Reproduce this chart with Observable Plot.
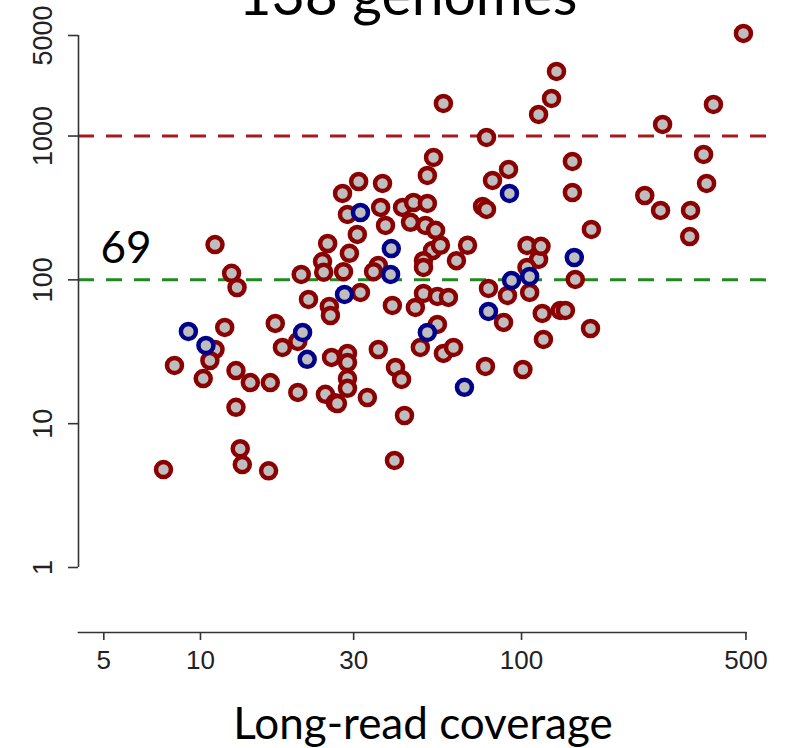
<!DOCTYPE html>
<html><head><meta charset="utf-8">
<script src="https://cdn.jsdelivr.net/npm/d3@7"></script>
<script src="https://cdn.jsdelivr.net/npm/@observablehq/plot@0.6"></script>
<style>html,body{margin:0;padding:0;background:#fff;overflow:hidden} #chart svg{display:block}</style>
</head><body><div id="chart"></div>
<script>
const title = "138 genomes";
const xLabel = "Long-read coverage";
const annotation = "69";
const xTicks = [5, 10, 30, 100, 500];
const yTicks = [1, 10, 100, 1000, 5000];
const upperThreshold = [1000];
const lowerThreshold = [100];
const xDomain = [4.17, 618];
const yDomain = [1, 5000];

// long-read coverage of each genome
const coverage = [7.67, 8.30, 9.17, 10.4, 11.1, 10.7, 10.2, 11.1, 11.9, 12.5,
  13.0, 12.9, 14.3, 12.9, 13.3, 13.5, 16.3, 16.5, 17.1, 18.0,
  20.1, 20.8, 21.5, 20.1, 20.6, 21.7, 24.5, 26.3, 25.6, 24.9,
  24.0, 24.2, 25.2, 25.4, 28.1, 27.7, 28.7, 31.1, 31.5, 30.8,
  29.1, 27.9, 31.5, 28.7, 28.7, 28.7, 28.7, 26.7, 33.1, 35.8,
  36.9, 36.4, 37.7, 35.8, 34.6, 39.3, 39.1, 39.6, 40.5, 42.3,
  43.2, 40.2, 42.6, 46.1, 50.9, 45.1, 50.2, 54.0, 50.9, 53.2,
  57.1, 52.8, 55.9, 49.5, 49.5, 67.9, 62.7, 46.7, 49.5, 54.7,
  59.2, 50.9, 54.7, 48.4, 57.1, 61.4, 66.4, 77.2, 78.9, 78.9,
  87.9, 101, 117, 116, 132, 137, 164, 90.4, 106, 106,
  93.1, 147, 146, 113, 104, 104, 115, 165, 75.6, 77.8,
  91.7, 81.2, 91.1, 77.8, 144, 144, 113, 124, 128.5, 242,
  271, 275, 336, 334, 369, 377, 396, 491];

// value on the log y axis for each genome
const value = [4.80, 25.4, 43.8, 35.0, 32.8, 27.5, 20.6, 176, 46.7, 111,
  88.5, 23.4, 19.3, 13.0, 6.7, 5.2, 4.7, 19.3, 49.8, 33.9,
  37.3, 43.1, 28.0, 16.5, 109, 73.1, 16.0, 14.0, 28.9, 179,
  134, 113, 65.3, 56.5, 79.2, 399, 285, 483, 294, 207,
  153, 114, 81.7, 30.8, 26.6, 20.6, 17.6, 13.8, 15.2, 32.8,
  468, 319, 239, 126, 114, 165, 109, 66.4, 24.6, 20.3,
  11.4, 5.55, 319, 345, 340, 251, 239, 221, 532, 710,
  1685, 160, 174, 136, 122, 174, 136, 64.3, 80.4, 76.7,
  75.5, 43.1, 49.0, 33.9, 30.8, 33.9, 17.9, 25.0, 87.1, 60.3,
  50.6, 23.8, 38.5, 58.4, 61.3, 61.3, 45.9, 77.9, 81.7, 105.6,
  99.0, 100.6, 143, 138.7, 122, 173.5, 171, 224, 324, 309,
  399, 491, 586, 978, 666, 405, 1413, 1826, 2813, 386,
  304, 1204, 304, 200, 745, 468, 1658, 5170];

// 1 = highlighted (blue ring), 0 = other (red ring)
const highlighted = [0,0,1,1,0,0,0,0,0,0,
  0,0,0,0,0,0,0,0,0,0,
  0,1,1,0,0,0,0,0,0,0,
  0,0,0,0,1,0,0,0,1,0,
  0,0,0,0,0,0,0,0,0,0,
  0,0,0,0,0,1,1,0,0,0,
  0,0,0,0,0,0,0,0,0,0,
  0,0,0,0,0,0,0,0,0,0,
  0,1,0,0,0,0,1,0,0,1,
  0,0,0,0,0,0,0,0,0,1,
  1,0,1,0,0,0,0,0,0,0,
  1,0,0,0,0,0,0,0,0,0,
  0,0,0,0,0,0,0,0];

const rows = coverage.map((c, i) => ({coverage: c, value: value[i], hl: highlighted[i]}));
const others = rows.filter(d => d.hl === 0);
const highlights = rows.filter(d => d.hl === 1);

const labelFont = "Lato, 'Open Sans', sans-serif";
const tickFont = "'Liberation Sans', Arial, sans-serif";
const axisColor = "#333";

const chart = Plot.plot({
  width: 786,
  height: 748,
  marginLeft: 78,
  marginRight: 11,
  marginTop: 35,
  marginBottom: 116,
  style: {fontFamily: tickFont, background: "white", color: "#222", overflow: "visible"},
  x: {type: "log", domain: xDomain, axis: null},
  y: {type: "log", domain: yDomain, range: [567, 35], axis: null},
  marks: [
    Plot.ruleY(upperThreshold, {stroke: "#a51a1a", strokeWidth: 3, strokeDasharray: "16,12"}),
    Plot.ruleY(lowerThreshold, {stroke: "#1f8a1f", strokeWidth: 3, strokeDasharray: "16,12"}),
    Plot.ruleX([xDomain[0]], {y1: yTicks[0], y2: yTicks[yTicks.length - 1], stroke: axisColor, strokeWidth: 1.6}),
    Plot.axisY({ticks: yTicks, tickSize: 10, tickFormat: () => "", label: null,
      stroke: axisColor, strokeWidth: 1.6}),
    Plot.text(yTicks, {y: d => d, text: d => String(d), frameAnchor: "left", dx: -35, rotate: -90,
      textAnchor: "middle", lineAnchor: "middle", fontSize: 27, fontFamily: tickFont, fill: "#222"}),
    Plot.frame({anchor: "bottom", insetRight: 29.5, stroke: axisColor, strokeWidth: 1.6}),
    Plot.axisX({ticks: xTicks, tickSize: 8, tickPadding: 10, fontSize: 26,
      tickFormat: d => String(d), label: null, stroke: axisColor, strokeWidth: 1.6, fill: "#222"}),
    Plot.dot(others, {x: "coverage", y: "value", r: 7.5, fill: "#bebebe", stroke: "#8b0000", strokeWidth: 4.5}),
    Plot.dot(highlights, {x: "coverage", y: "value", r: 7.5, fill: "#bebebe", stroke: "#00008b", strokeWidth: 4.5}),
    Plot.text([annotation], {text: d => d, frameAnchor: "left", y: lowerThreshold, dx: 22, dy: -17,
      textAnchor: "start", lineAnchor: "bottom", fontSize: 44, fontFamily: labelFont, fill: "#000"}),
    Plot.text([title], {text: d => d, frameAnchor: "top", dx: -19, dy: -21, lineAnchor: "bottom",
      fontSize: 57, fontFamily: labelFont, fill: "#000"}),
    Plot.text([xLabel], {text: d => d, frameAnchor: "bottom", dx: -4, dy: 106, lineAnchor: "bottom",
      fontSize: 44, fontFamily: labelFont, fill: "#000"})
  ]
});
document.getElementById("chart").appendChild(chart);
</script>
</body></html>
